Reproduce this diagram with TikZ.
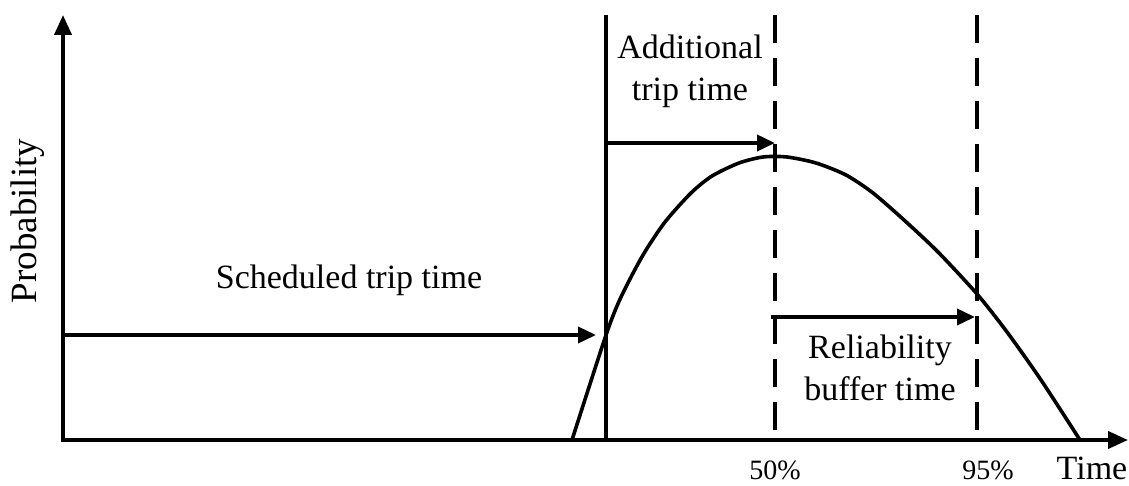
\documentclass[tikz,border=0pt]{standalone}
\usepackage{fontspec}
\setmainfont{Liberation Serif}
\usetikzlibrary{arrows.meta, positioning}

\begin{document}
\begin{tikzpicture}[
    x=0.5pt, y=-0.5pt,
    axes/.style={
        {Triangle[length=10pt,width=8.5pt]}-{Triangle[length=10pt,width=8.5pt]},
        line width=2pt
    },
    arrow/.style={-{Triangle[length=9pt,width=8pt]}, line width=1.8pt},
    marker/.style={line width=1.8pt, dash pattern=on 14pt off 7.5pt},
    bound/.style={line width=1.8pt},
    curve/.style={line width=1.8pt, line join=round},
    label/.style={font=\fontsize{17}{21}\selectfont, align=center, inner sep=0pt},
    pct/.style={font=\fontsize{14}{16}\selectfont, inner sep=0pt, anchor=base}
]
\useasboundingbox (0,0) rectangle (1129,486);

% Axes
\coordinate (origin) at (63,440);
\coordinate (ytip) at (63,15);
\coordinate (xtip) at (1128,440);
\draw[axes] (ytip) -- (origin) -- (xtip);

% Reference lines
\coordinate (sched top) at (606,15);
\coordinate (sched foot) at (606,440);
\coordinate (median top) at (775,15);
\coordinate (median foot) at (775,440);
\coordinate (high top) at (977,15);
\coordinate (high foot) at (977,440);
\draw[bound] (sched top) -- (sched foot);
\draw[marker] (median top) -- (median foot);
\draw[marker] (high top) -- (high foot);

% Trip time distribution
\draw[curve] plot[smooth, tension=0.45] coordinates {
    (572,440) (606,335) (621,297) (643,255) (665,222) (691,193)
    (712,176) (739,163) (763,157) (787,157) (816,163) (846,175)
    (873,193) (904,220) (938,252) (977,294) (1007,332) (1041,380)
    (1080,440)};

% Time arrows
\coordinate (sched start) at (63,335);
\coordinate (sched end) at (596,335);
\coordinate (extra start) at (606,143);
\coordinate (extra end) at (775,143);
\coordinate (buffer start) at (771,317);
\coordinate (buffer end) at (975,317);
\draw[arrow] (sched start) -- (sched end);
\draw[arrow] (extra start) -- (extra end);
\draw[arrow] (buffer start) -- (buffer end);

% Labels
\node[label, rotate=90, font=\fontsize{18.5}{22}\selectfont] (prob) at (28,221) {Probability};
\node[label, anchor=base] (sched) at (349,288) {Scheduled trip time};
\node[label] (extra) at (690,71) {Additional\\trip time};
\node[label] (buffer) at (880,368) {Reliability\\buffer time};
\node[pct] (p50) at (775,479) {50\%};
\node[pct] (p95) at (988,479) {95\%};
\node[label, anchor=base] (time) at (1092,479) {Time};

\end{tikzpicture}
\end{document}
